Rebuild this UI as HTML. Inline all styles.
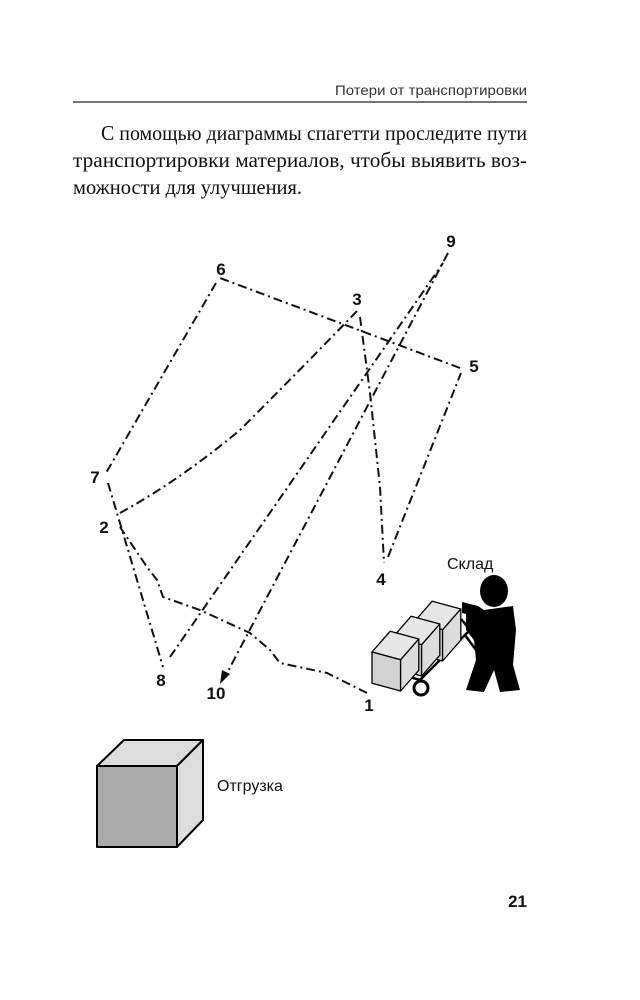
<!DOCTYPE html>
<html><head><meta charset="utf-8"><style>
html,body{margin:0;padding:0;background:#fff}
svg{display:block}
</style></head><body>
<svg width="640" height="1000" viewBox="0 0 640 1000" xmlns="http://www.w3.org/2000/svg">
<defs>
<g id="box" stroke="#000" stroke-width="1" stroke-linejoin="round">
<path d="M0,0 L14,-16 L36,-10 L22,6 Z" fill="#e6e6e6"/>
<path d="M0,0 L22,6 L22,30 L0,24 Z" fill="#d2d2d2"/>
<path d="M22,6 L36,-10 L36,14 L22,30 Z" fill="#dcdcdc"/>
</g>
</defs>
<text x="527" y="95" text-anchor="end" font-family="Liberation Sans, sans-serif" font-size="14" fill="#333" textLength="192" lengthAdjust="spacingAndGlyphs">Потери от транспортировки</text>
<line x1="73" y1="102" x2="527" y2="102" stroke="#222" stroke-width="1.3"/>
<g font-family="Liberation Serif, serif" font-size="21" fill="#111">
<text x="101" y="140" textLength="426" lengthAdjust="spacingAndGlyphs">С помощью диаграммы спагетти проследите пути</text>
<text x="73" y="167" textLength="454" lengthAdjust="spacingAndGlyphs">транспортировки материалов, чтобы выявить воз-</text>
<text x="73" y="194" textLength="229" lengthAdjust="spacingAndGlyphs">можности для улучшения.</text>
</g>
<g fill="none" stroke="#111" stroke-width="2" stroke-dasharray="9,4,2,4">
<path d="M367,693 L327,673 L280,663 L270,650 L250,633 L200,610 L163,597 L157,580 L147,567 L120,527"/>
<path d="M120,513 Q180,480 240,430 Q300,370 358,310"/>
<path d="M360,317 L370,393 L380,487 L384,563"/>
<path d="M388,557 L461,373"/>
<path d="M460,368 L220,278"/>
<path d="M216,283 L106,473"/>
<path d="M108,483 L163,667"/>
<path d="M170,657 L443,263"/>
<path d="M448,253 L226,675"/>
</g>
<path d="M220,684 L222,670 L230,674 Z" fill="#111"/>
<g font-family="Liberation Sans, sans-serif" font-size="17" font-weight="bold" fill="#111" text-anchor="middle">
<text x="221" y="275">6</text>
<text x="357" y="305">3</text>
<text x="451" y="247">9</text>
<text x="474" y="372">5</text>
<text x="95" y="483">7</text>
<text x="104" y="533">2</text>
<text x="381" y="585">4</text>
<text x="161" y="686">8</text>
<text x="216" y="699">10</text>
<text x="369" y="711">1</text>
</g>
<text x="447" y="569" font-family="Liberation Sans, sans-serif" font-size="16" fill="#111">Склад</text>
<!-- person -->
<ellipse cx="494" cy="591" rx="14" ry="16" fill="#000"/>
<path d="M466,606 L478,606 L484,610 L513,606 L516,630 L513,665 L520,690 L500,692 L494,670 L484,692 L466,690 L476,660 L474,640 L466,630 Z" fill="#000"/>
<path d="M462,602 L478,606 L478,617 L462,613 Z" fill="#000"/>
<!-- cart -->
<g stroke="#000" stroke-width="2.5" fill="none">
<path d="M455,622 L462,620 L470,630 L420,680 L378,668"/>
<line x1="465" y1="635" x2="476" y2="650"/>
</g>
<circle cx="421" cy="688" r="7" fill="#fff" stroke="#000" stroke-width="3"/>
<use href="#box" transform="translate(414,622) scale(1.3)"/>
<use href="#box" transform="translate(393,637) scale(1.3)"/>
<use href="#box" transform="translate(372,652) scale(1.3)"/>
<!-- cube -->
<g stroke="#000" stroke-width="2" stroke-linejoin="round">
<path d="M97,766 L124,740 L203,740 L177,766 Z" fill="#ddd"/>
<path d="M177,766 L203,740 L203,820 L177,847 Z" fill="#ddd"/>
<rect x="97" y="766" width="80" height="81" fill="#aaa"/>
</g>
<text x="217" y="791" font-family="Liberation Sans, sans-serif" font-size="16" fill="#111">Отгрузка</text>
<text x="527" y="907" text-anchor="end" font-family="Liberation Sans, sans-serif" font-size="17" font-weight="bold" fill="#111">21</text>
</svg>
</body></html>
